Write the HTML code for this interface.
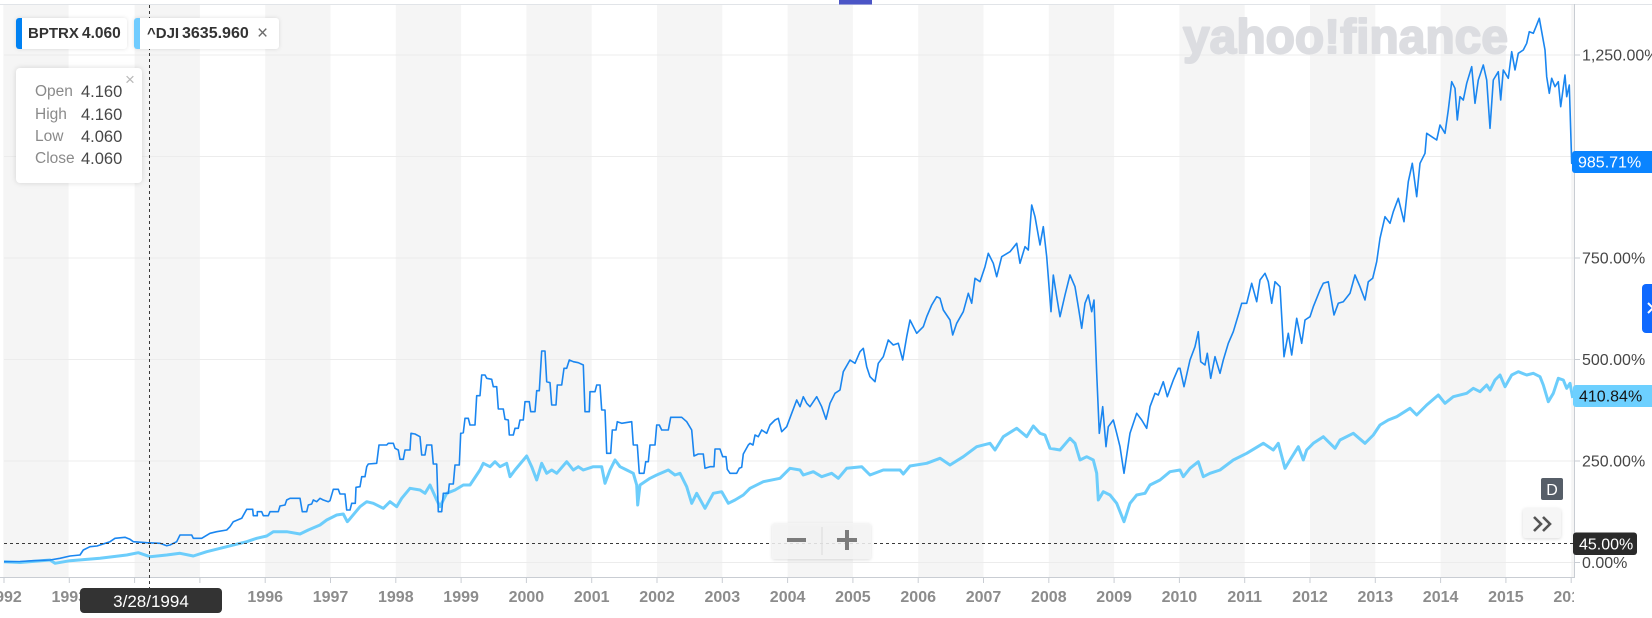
<!DOCTYPE html>
<html><head><meta charset="utf-8"><style>
html,body{margin:0;padding:0;background:#fff;}
body{width:1652px;height:618px;overflow:hidden;position:relative;font-family:"Liberation Sans",Arial,sans-serif;}
svg{position:absolute;left:0;top:0;}
.chip{position:absolute;top:18px;height:31px;background:#fff;border-radius:3px;box-shadow:0 0 4px rgba(0,0,0,0.12);}
.chip .bar{position:absolute;left:0;top:0;width:6px;height:31px;border-radius:3px 0 0 3px;}
.chip span{position:absolute;top:0;line-height:31px;font-weight:bold;color:#333;font-size:15px;white-space:nowrap;}
.tip{position:absolute;left:16px;top:68px;width:126px;height:115px;background:#fff;border-radius:4px;box-shadow:0 0 6px rgba(0,0,0,0.14);}
.tip .l{position:absolute;left:19px;font-size:15.5px;color:#8a8a8a;line-height:22px;}
.tip .v{position:absolute;left:65px;font-size:16.5px;color:#474747;line-height:22px;}
</style></head><body>
<svg width="1652" height="618" viewBox="0 0 1652 618" xmlns="http://www.w3.org/2000/svg">
<defs>
<clipPath id="plot"><rect x="0" y="4" width="1574" height="614"/></clipPath>
<filter id="sh" x="-20%" y="-20%" width="140%" height="140%"><feDropShadow dx="0" dy="1" stdDeviation="1.5" flood-color="#000" flood-opacity="0.15"/></filter>
</defs>
<g fill="#f5f5f5">
<rect x="3.3" y="4" width="65.3" height="573"/>
<rect x="134.6" y="4" width="65.3" height="573"/>
<rect x="265.2" y="4" width="65.3" height="573"/>
<rect x="395.8" y="4" width="65.3" height="573"/>
<rect x="526.4" y="4" width="65.3" height="573"/>
<rect x="657" y="4" width="65.3" height="573"/>
<rect x="787.6" y="4" width="65.3" height="573"/>
<rect x="918.2" y="4" width="65.3" height="573"/>
<rect x="1048.8" y="4" width="65.3" height="573"/>
<rect x="1179.4" y="4" width="65.3" height="573"/>
<rect x="1310" y="4" width="65.3" height="573"/>
<rect x="1440.6" y="4" width="65.3" height="573"/>
<rect x="1571.2" y="4" width="3" height="573"/>
</g>
<line x1="0" y1="4.5" x2="1652" y2="4.5" stroke="#e1e4e8" stroke-width="1"/>
<rect x="839" y="0" width="33" height="4.5" fill="#4b55c6"/>
<g stroke="#ececec" stroke-width="1">
<line x1="4" y1="562.5" x2="1574" y2="562.5"/>
<line x1="4" y1="461" x2="1574" y2="461"/>
<line x1="4" y1="359.5" x2="1574" y2="359.5"/>
<line x1="4" y1="258" x2="1574" y2="258"/>
<line x1="4" y1="156.5" x2="1574" y2="156.5"/>
<line x1="4" y1="55" x2="1574" y2="55"/>
</g>
<g stroke="#c9cdd3" stroke-width="1">
<line x1="1574" y1="562.5" x2="1580" y2="562.5"/>
<line x1="1574" y1="461" x2="1580" y2="461"/>
<line x1="1574" y1="359.5" x2="1580" y2="359.5"/>
<line x1="1574" y1="258" x2="1580" y2="258"/>
<line x1="1574" y1="156.5" x2="1580" y2="156.5"/>
<line x1="1574" y1="55" x2="1580" y2="55"/>
</g>
<line x1="1574.5" y1="4" x2="1574.5" y2="578" stroke="#c9cdd3" stroke-width="1"/>
<line x1="0" y1="577.5" x2="1574" y2="577.5" stroke="#c9cdd3" stroke-width="1"/>
<g stroke="#c9cdd3" stroke-width="1">
<line x1="4" y1="577" x2="4" y2="583"/><line x1="69.3" y1="577" x2="69.3" y2="583"/><line x1="134.6" y1="577" x2="134.6" y2="583"/><line x1="199.9" y1="577" x2="199.9" y2="583"/><line x1="265.2" y1="577" x2="265.2" y2="583"/><line x1="330.5" y1="577" x2="330.5" y2="583"/><line x1="395.8" y1="577" x2="395.8" y2="583"/><line x1="461.1" y1="577" x2="461.1" y2="583"/><line x1="526.4" y1="577" x2="526.4" y2="583"/><line x1="591.7" y1="577" x2="591.7" y2="583"/><line x1="657" y1="577" x2="657" y2="583"/><line x1="722.3" y1="577" x2="722.3" y2="583"/><line x1="787.6" y1="577" x2="787.6" y2="583"/><line x1="852.9" y1="577" x2="852.9" y2="583"/><line x1="918.2" y1="577" x2="918.2" y2="583"/><line x1="983.5" y1="577" x2="983.5" y2="583"/><line x1="1048.8" y1="577" x2="1048.8" y2="583"/><line x1="1114.1" y1="577" x2="1114.1" y2="583"/><line x1="1179.4" y1="577" x2="1179.4" y2="583"/><line x1="1244.7" y1="577" x2="1244.7" y2="583"/><line x1="1310" y1="577" x2="1310" y2="583"/><line x1="1375.3" y1="577" x2="1375.3" y2="583"/><line x1="1440.6" y1="577" x2="1440.6" y2="583"/><line x1="1505.9" y1="577" x2="1505.9" y2="583"/><line x1="1571.2" y1="577" x2="1571.2" y2="583"/>
</g>
<g clip-path="url(#plot)" font-family="Liberation Sans, Arial, sans-serif" font-size="16" font-weight="bold" fill="#8c8c8c" text-anchor="middle">
<text x="4" y="602">1992</text><text x="69.3" y="602">1993</text><text x="265.2" y="602">1996</text><text x="330.5" y="602">1997</text><text x="395.8" y="602">1998</text><text x="461.1" y="602">1999</text><text x="526.4" y="602">2000</text><text x="591.7" y="602">2001</text><text x="657" y="602">2002</text><text x="722.3" y="602">2003</text><text x="787.6" y="602">2004</text><text x="852.9" y="602">2005</text><text x="918.2" y="602">2006</text><text x="983.5" y="602">2007</text><text x="1048.8" y="602">2008</text><text x="1114.1" y="602">2009</text><text x="1179.4" y="602">2010</text><text x="1244.7" y="602">2011</text><text x="1310" y="602">2012</text><text x="1375.3" y="602">2013</text><text x="1440.6" y="602">2014</text><text x="1505.9" y="602">2015</text><text x="1571.2" y="602">2016</text>
</g>
<text x="1183" y="53" font-family="Liberation Sans, Arial, sans-serif" font-size="48" font-weight="bold" fill="#dcdde1" stroke="#dcdde1" stroke-width="2" stroke-linejoin="round" textLength="325" lengthAdjust="spacingAndGlyphs">yahoo!finance</text>
<polyline fill="none" stroke="#6ccdfb" stroke-width="3" stroke-linejoin="round" points="4,561.7 20,562.5 50,560 55,563.3 70,560.7 100,558.3 126.7,555 138.3,552.7 150,556.7 166.7,555 180,553.3 193.3,556 206.7,551.7 226.7,546.7 246.7,541.7 256.7,538.3 266.7,536 273.3,531.7 286.7,531.7 300,534 308.3,530 320,525 326.7,520 336.7,515 343.3,514 347.3,521.7 350,518.7 360,506.7 366.7,501.7 373.3,503.3 383.3,508.3 390,501.7 396.7,506.7 401.7,498.3 410,488.3 420,490 425,493.3 430,485 436.7,500 440,506.7 446.7,493.3 455,490 463.3,485 470,485 480,470 483.3,463.3 490,466.7 495,461.7 500,466.7 506.7,463.3 510,476.7 515,470 526.7,456 531.7,466.7 536.7,480 541.7,463.3 546.7,473.3 551.7,470 556.7,473.3 566.7,461.7 573.3,470 578.3,466.7 583.3,470 593.3,466.7 601.7,466.7 605,483.3 610,470 615,460 620,466.7 626.7,470 633.3,473.3 636.7,485 637.7,505 640,485 650,478.3 656.7,475 668.3,470 675,475 680,473.3 686.7,486.7 691.7,503.3 696.7,493.3 705,508.3 713.3,493.3 721.7,491.7 728.3,503.3 735,500 743.3,495 750,488.3 763.3,481.7 780,478.3 790,468.3 800,470 803.3,475 813.3,471.7 821.7,476.7 831.7,473.3 838.3,478.3 846.7,468.3 861.7,466.7 870,475 883.3,470 900,470 903.3,474 910,466 926.7,463.3 940,458.3 950,465 963.3,456.7 976.7,446.7 990,443.3 995,450 1003.3,436.7 1016.7,428.3 1026.7,436.7 1033.3,426 1040,433.3 1045,435 1050,448.3 1060,450 1070,438.3 1075,443.3 1080,460 1086.7,456.7 1093.3,460 1096.7,473.3 1098.3,500 1103.3,491.7 1110,495 1116.7,503.3 1124,521.7 1130,503.3 1136.7,495 1145,493.3 1150,485 1160,480 1170,471.7 1180,470 1183.3,476.7 1190,468.3 1198.3,461.7 1203.3,476.7 1210,473.3 1220,470 1233.3,460 1246.7,453.3 1263.3,443.3 1273.3,450 1278.3,443.3 1285,468.3 1290,460 1298.3,446.7 1303.3,460 1306.7,450 1313.3,443.3 1323.3,436.7 1335,448.3 1340,440 1353.3,433.3 1365,443.3 1373.3,435 1380,425 1388.3,420 1396.7,416.7 1410,408.3 1416.7,415 1426.7,405 1438.3,395 1445,403.3 1453.3,396.7 1466.7,393.3 1473.3,388.3 1480,391.7 1486.7,385 1490,390 1495,380 1500,375 1505,386.7 1511.7,375 1518.3,371.7 1526.7,375 1533.3,373.3 1540,376.7 1543.3,385 1548.3,401.7 1553.3,393.3 1558.3,378.3 1563.3,380 1566.7,388.3 1570,383.3 1572.7,398"/>
<polyline fill="none" stroke="#1a86f0" stroke-width="1.6" stroke-linejoin="round" points="4,561.7 20,561.5 33,560.7 50,560 60,558.3 70,556 80,555 83.3,550 90,546.7 97,546 110,541.7 115,538.3 125,537.3 130,539.3 133.3,541.7 146.7,542.7 160,543.3 166.7,545.7 170,545 176.7,541.7 180,535 191.7,535 193.3,538.3 201.7,538.3 210,533.3 216.7,531.7 226.7,530 230,526.7 233.3,521.7 241.7,518.3 246.7,509.3 252.7,509.3 253.3,515.7 257.3,515.7 257.3,511.7 261.7,511.7 263.3,515.7 268.3,515.7 270,511.7 278.3,511.7 280,506 285,505 286.7,500 290,498.3 300,498.3 302.3,511.7 306.7,511.7 308.3,505 311.7,504 313.3,500 316.7,501.7 320,498.3 323.3,500 328.3,501.7 330,500.7 333.3,489.3 338.3,489.3 340,494 345,494 346.7,510 350,510 351.7,503.3 355.3,503.3 356,487.3 360,486.7 361.7,476.7 365,476.7 366.7,466.7 368.3,464 376.7,463.3 379,445 386.7,445 388.3,443.3 393.3,443.3 395,448.3 398.3,450 400,459.3 403.3,459.3 405,450 410,450 411,433.3 415,434 420,436.7 421.7,455 425,455 426.7,445 431.7,445 433.3,464 436.7,464 438.3,511.7 441.7,511.7 443.3,493.3 448.3,493.3 449.3,484 453.3,484 455,465 459.3,465 460.7,433.3 463.3,432.7 465,418.3 468.3,418.3 470,425 475,425 476.7,395.7 480,395.7 481.7,375 485,375 486.7,378.3 491.7,379.3 493.3,386.7 496.7,386.7 498.3,409 503.3,409 505,419.3 508.3,420 509.3,435 513.3,435 515,428.3 518.3,428.3 520,420 523.3,420 525,401.7 529.3,401.7 530.7,411.7 535,411.7 536.7,390.7 539.3,390.7 541.7,351 545,351 546.7,381.7 550,382.7 551.7,405 556,405 557.3,385 561.7,385 564,368.3 566.7,368.3 569.3,360 573.3,361.7 578.3,362.7 583.3,365 585,411.7 589.3,411.7 590,391.7 595,391.7 596.7,385 600,385 601.7,410 605,410 606.7,453.3 610.7,453.3 612.3,430 616,430 617.3,421.7 621.7,423.3 631.7,421.7 633.3,445 637.3,445 639.3,473.3 644,473.3 645.7,461.7 648.3,461.7 650,445 655,445 656.7,425 659.3,425 661.7,430 668.3,430 670.7,417.3 681.7,417.3 686.7,421.7 691.7,430 694,456 698.3,454 703.3,454 705,468.3 710,466.7 714,466.7 715,449 720,449 722.7,456.7 726,456.7 727.3,469.3 730,473.3 736.7,473.3 739.3,468.3 741.7,467.3 743.3,454 748.3,445 750,443.3 753,445 755,435 758.3,436.7 761.7,430 766.7,433.3 770,425 775,420 778.3,418.3 781.7,431.7 786.7,426.7 791.7,413.3 796.7,400 800,406.7 803.3,396.7 806.7,403.3 810,406.7 816.7,396.7 821.7,406.7 826,419.3 830,403.3 835,393.3 840,390 843.3,371.7 850,360 855,363.3 860,351.7 863.3,348.3 866.7,366.7 870,376.7 875,381.7 878.3,363.3 883.3,356.7 888.3,340 893.3,345 898.3,343.3 902.7,360 906.7,336.7 910,320 916.7,333.3 923.3,326.7 926.7,316.7 931.7,305 936.7,296.7 940,298.3 943.3,310 950,320 952.7,335 956.7,323.3 963.3,311.7 968.3,293.3 971.7,303.3 975,278.3 980,281.7 985,266.7 988.3,253.3 993.3,263.3 996.7,276.7 1001.7,256.7 1010,251.7 1016.7,243.3 1020,263.3 1025,246.7 1028.3,250 1031.7,205 1035,216.7 1040,245 1043.3,226.7 1046.7,256.7 1051,311.7 1053.3,275 1056.7,296.7 1060,316.7 1065,295 1070,275 1075,286.7 1078.3,306.7 1081.7,328.3 1085,303.3 1088.3,295 1091.7,311.7 1094,300 1096.7,373.3 1099.3,433.3 1102.7,406.7 1106,446.7 1108.3,426.7 1113.3,420 1116.7,433.3 1120,446.7 1124,473.3 1130,433.3 1136.7,413.3 1141.7,420 1146.7,428.3 1150,406.7 1155,393.3 1158.3,395 1163.3,381.7 1167.3,396.7 1173.3,380 1178.3,368.3 1180,368.3 1184,386.7 1190,360 1195,346.7 1198.3,331.7 1200.7,361.7 1205,365 1207.3,353.3 1210.7,378.3 1215,356.7 1220,373.3 1223.3,360 1228.3,343.3 1233.3,331.7 1238.3,315 1241.7,303.3 1246.7,303.3 1251.7,283.3 1256.7,301.7 1260,280 1265,273.3 1268.3,281.7 1271.7,303.3 1275,281.7 1280,286.7 1284,356.7 1288.3,333.3 1291.7,355 1296.7,318.3 1301.7,343.3 1305,320 1310,316.7 1313.3,306.7 1320,290 1323.3,283.3 1328.3,281.7 1334,315 1338.3,303.3 1343.3,301.7 1350,293.3 1355,275 1360,286.7 1365,300 1368.3,281.7 1372.7,278.3 1376.7,261.7 1380,238.3 1385,216.7 1390,223.3 1393.3,211.7 1398.3,198.3 1404,221.7 1408.3,181.7 1412.3,163.3 1416.7,196.7 1420,163.3 1425,153.3 1426.7,133.3 1431.7,136.7 1436.7,140 1440,125 1445,133.3 1448.3,110 1451.7,81.7 1455,88.3 1457.3,120 1460,96.7 1463.3,100 1466.7,83.3 1471.7,66.7 1475,103.3 1478.3,80 1483.3,65 1486.7,80 1490,128.3 1493.3,80 1498.3,71.7 1500.7,100 1503.3,70 1508.3,78.3 1511.7,51.7 1515,70 1518.3,53.3 1523.3,50 1526.7,43.3 1529.3,31.7 1533.3,33.3 1536,26.7 1539.3,18.3 1541.7,31.7 1545,50 1546.7,76.7 1549.3,93.3 1551.7,78.3 1555,86.7 1558.3,81.7 1560.7,106.7 1565,75 1566.7,96.7 1569.3,85 1571.7,163.3 1573,162.3"/>
<line x1="149.5" y1="5" x2="149.5" y2="588" stroke="#3a3a3a" stroke-width="1" stroke-dasharray="3,3"/>
<line x1="4" y1="543.5" x2="1574" y2="543.5" stroke="#3a3a3a" stroke-width="1" stroke-dasharray="3,3"/>
<rect x="772" y="523" width="99" height="36" rx="3" fill="#f5f5f5" fill-opacity="0.85" filter="url(#sh)"/>
<line x1="822" y1="527" x2="822" y2="555" stroke="#dadada" stroke-width="1"/>
<rect x="787" y="538" width="19" height="4" fill="#7b7b7b"/>
<rect x="837" y="538" width="20" height="4" fill="#7b7b7b"/>
<rect x="845" y="530" width="4" height="20" fill="#7b7b7b"/>
<g font-family="Liberation Sans, Arial, sans-serif" font-size="16" fill="#464646">
<text x="1582" y="60.7">1,250.00%</text>
<text x="1582" y="263.7">750.00%</text>
<text x="1582" y="365.2">500.00%</text>
<text x="1582" y="466.7">250.00%</text>
<text x="1582" y="568.2">0.00%</text>
</g>
<rect x="1572" y="151" width="84" height="22" rx="3" fill="#0a84ff"/>
<text x="1578" y="167.7" font-family="Liberation Sans, Arial, sans-serif" font-size="16" fill="#fff">985.71%</text>
<rect x="1573" y="385" width="84" height="22" rx="3" fill="#6dd0ff"/>
<text x="1579" y="401.7" font-family="Liberation Sans, Arial, sans-serif" font-size="16" fill="#151515">410.84%</text>
<rect x="1573" y="532.5" width="64" height="22.5" rx="3" fill="#2a2a2a"/>
<text x="1579" y="549.5" font-family="Liberation Sans, Arial, sans-serif" font-size="16" fill="#fff">45.00%</text>
<rect x="1541" y="478" width="22" height="22" rx="2" fill="#565e68"/>
<text x="1552" y="495" text-anchor="middle" font-family="Liberation Sans, Arial, sans-serif" font-size="16" fill="#fff">D</text>
<rect x="1523" y="508" width="38" height="30" rx="3" fill="#f6f6f6" filter="url(#sh)"/>
<polyline points="1534,517 1541,524 1534,531" fill="none" stroke="#555" stroke-width="2.6"/>
<polyline points="1543,517 1550,524 1543,531" fill="none" stroke="#555" stroke-width="2.6"/>
<rect x="1642" y="284" width="16" height="49" rx="4" fill="#0f69ff"/>
<polyline points="1648,303 1653,308 1648,313" fill="none" stroke="#fff" stroke-width="2"/>
<rect x="80" y="588" width="142" height="25" rx="4" fill="#333"/>
<text x="151" y="607" text-anchor="middle" font-family="Liberation Sans, Arial, sans-serif" font-size="17" fill="#fff">3/28/1994</text>
</svg>

<div class="chip" style="left:16px;width:111px;">
  <div class="bar" style="background:#0081f2"></div>
  <span style="left:12px;">BPTRX</span><span style="left:66px;font-size:15.5px;">4.060</span>
</div>
<div class="chip" style="left:134px;width:145px;">
  <div class="bar" style="background:#70ccff"></div>
  <span style="left:13px;">^DJI</span><span style="left:48px;font-size:16px;">3635.960</span>
  <span style="left:123px;font-weight:normal;color:#6b6b6b;font-size:19px;">&#215;</span>
</div>
<div class="tip">
  <div style="position:absolute;left:109px;top:2px;font-size:17px;color:#b8b8b8;">&#215;</div>
  <div class="l" style="top:13px;">Open</div><div class="v" style="top:13px;">4.160</div>
  <div class="l" style="top:36px;">High</div><div class="v" style="top:36px;">4.160</div>
  <div class="l" style="top:58px;">Low</div><div class="v" style="top:58px;">4.060</div>
  <div class="l" style="top:80px;">Close</div><div class="v" style="top:80px;">4.060</div>
</div>
</body></html>
